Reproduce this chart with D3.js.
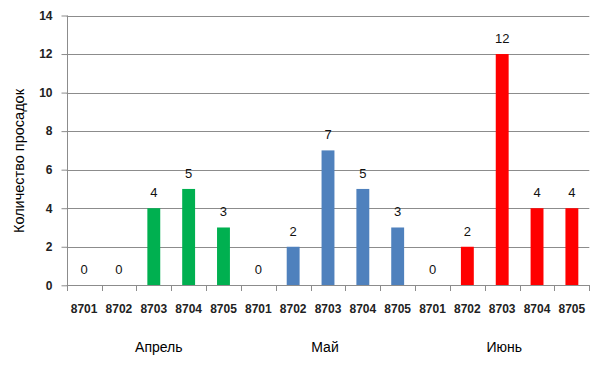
<!DOCTYPE html>
<html><head><meta charset="utf-8">
<script src="https://cdn.jsdelivr.net/npm/d3@7"></script>
<style>body{margin:0;background:#fff}svg{display:block}</style>
</head><body>
<svg id="c" width="601" height="374"></svg>
<script>
const groups = ["Апрель", "Май", "Июнь"];
const codes = ["8701", "8702", "8703", "8704", "8705"];
const aprel = [0, 0, 4, 5, 3];
const mai = [0, 2, 7, 5, 3];
const iyun = [0, 2, 12, 4, 4];
const colors = ["#00B050", "#4F81BD", "#FF0000"];
const yTicks = [0, 2, 4, 6, 8, 10, 12, 14];
const yTitle = "Количество просадок";

const series = [aprel, mai, iyun];
const data = [];
groups.forEach((g, gi) => codes.forEach((c, ci) => data.push({key: g + "|" + c, group: gi, code: c, value: series[gi][ci]})));

const svg = d3.select("#c");
const L = 66.7, R = 589.3, T = 15.5, B = 285.3;
const x = d3.scaleBand().domain(data.map(d => d.key)).range([L, R]).paddingInner(0.63).paddingOuter(0.315);
const xt = d3.scaleBand().domain(data.map(d => d.key)).range([L, R]);
const y = d3.scaleLinear().domain([0, 14]).range([B, T]);
const font = "'Liberation Sans', Arial, sans-serif";

// gridlines
svg.append("g").selectAll("line").data(yTicks.filter(t => t > 0)).join("line")
  .attr("x1", L).attr("x2", R).attr("y1", d => Math.round(y(d)) + 0.5).attr("y2", d => Math.round(y(d)) + 0.5)
  .attr("stroke", "#8c8c8c").attr("stroke-width", 1);

// y axis
const ya = svg.append("g").attr("transform", `translate(${Math.round(L) + 0.5},0)`)
  .call(d3.axisLeft(y).tickValues(yTicks).tickSize(6).tickPadding(9));
ya.select(".domain").attr("stroke", "#8c8c8c").attr("d", `M0,${y(14)}V${y(0)}`);
ya.selectAll(".tick line").attr("stroke", "#8c8c8c");
ya.selectAll(".tick text").attr("font-family", font).attr("font-size", 12).attr("font-weight", "bold").attr("fill", "#222");

// bars
svg.append("g").selectAll("rect").data(data.filter(d => d.value > 0)).join("rect")
  .attr("x", d => x(d.key)).attr("width", x.bandwidth())
  .attr("y", d => y(d.value)).attr("height", d => y(0) - y(d.value))
  .attr("fill", d => colors[d.group]);

// x axis
svg.append("line").attr("x1", L).attr("x2", R).attr("y1", Math.round(B) + 0.5).attr("y2", Math.round(B) + 0.5).attr("stroke", "#8c8c8c");
const tickPos = xt.domain().map(k => xt(k)).concat([R]);
svg.append("g").selectAll("line").data(tickPos).join("line")
  .attr("x1", d => Math.round(d) + 0.5).attr("x2", d => Math.round(d) + 0.5)
  .attr("y1", Math.round(B)).attr("y2", Math.round(B) + 6).attr("stroke", "#8c8c8c");

svg.append("g").selectAll("text").data(data).join("text")
  .attr("x", d => xt(d.key) + xt.bandwidth() / 2).attr("y", 313)
  .attr("text-anchor", "middle").attr("font-family", font).attr("font-size", 12).attr("font-weight", "bold").attr("fill", "#222")
  .text(d => d.code);

// data labels
svg.append("g").selectAll("text").data(data).join("text")
  .attr("x", d => x(d.key) + x.bandwidth() / 2).attr("y", d => y(d.value) - 11)
  .attr("text-anchor", "middle").attr("font-family", font).attr("font-size", 13).attr("fill", "#111")
  .text(d => d.value);

// group labels
const gOff = [5, -3, 2];
svg.append("g").selectAll("text").data(groups).join("text")
  .attr("x", (g, i) => xt(g + "|" + codes[2]) + xt.bandwidth() / 2 + gOff[i]).attr("y", 352)
  .attr("text-anchor", "middle").attr("font-family", font).attr("font-size", 14).attr("fill", "#000")
  .text(d => d);

// y title
svg.append("text").attr("transform", `translate(24,161) rotate(-90)`)
  .attr("text-anchor", "middle").attr("font-family", font).attr("font-size", 14.5).attr("fill", "#000")
  .text(yTitle);
</script>
</body></html>
